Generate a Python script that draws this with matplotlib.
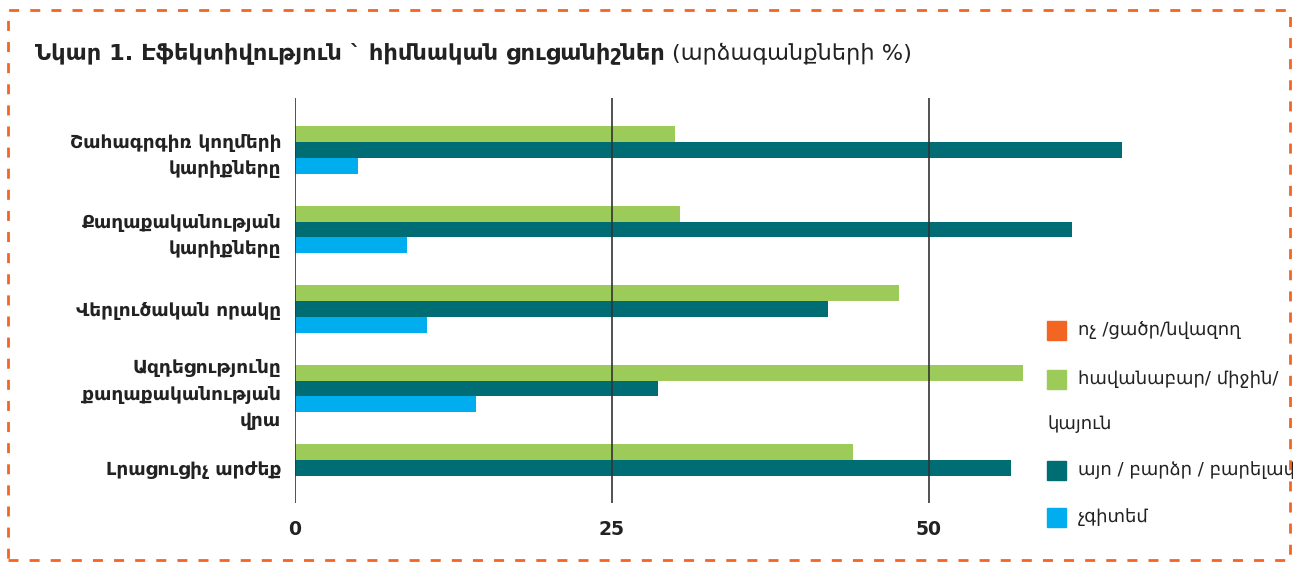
import matplotlib
matplotlib.use("Agg")
import matplotlib.pyplot as plt
from matplotlib.patches import Rectangle
import numpy as np

plt.rcParams['font.family'] = ['DejaVu Sans']

categories = [
    "Շահագրգիռ կողմերի\nկարիքները",
    "Քաղաքականության\nկարիքները",
    "Վերլուծական որակը",
    "Ազդեցությունը\nքաղաքականության\nվրա",
    "Լրացուցիչ արժեք",
]
series_names = ["ոչ /ցածր/նվազող", "հավանաբար/ միջին/\nկայուն", "այո / բարձր / բարելավ", "չգիտեմ"]
no_low = [0, 0, 0, 0, 0]
maybe_mid = [30.0, 30.4, 47.6, 57.4, 44.0]
yes_high = [65.2, 61.3, 42.0, 28.6, 56.5]
dont_know = [5.0, 8.8, 10.4, 14.3, 0]
colors = ["#F26522", "#9DCB5A", "#006D75", "#00AEEF"]
xticks = [0, 25, 50]

W, H = 1293, 563
fig = plt.figure(figsize=(W / 100, H / 100), dpi=100)

# axes placement in pixels
ax_left, ax_right, ax_top, ax_bot = 295, 1135, 98, 503
ax = fig.add_axes([ax_left / W, 1 - ax_bot / H, (ax_right - ax_left) / W, (ax_bot - ax_top) / H])

px_per_unit = (929 - 295) / 50.0
xmax = (ax_right - ax_left) / px_per_unit
ax.set_xlim(0, xmax)
ypx = 79.5
ax.set_ylim(4 + (ax_bot - 468) / ypx, -(150 - ax_top) / ypx)

h = 0.2
y = np.arange(len(categories))
data = [no_low, maybe_mid, yes_high, dont_know]
offsets = [-2 * h, -h, 0, h]
for vals, off, c in zip(data, offsets, colors):
    ax.barh(y + off, vals, height=h, color=c, edgecolor='none', zorder=2)

for s in ax.spines.values():
    s.set_visible(False)
ax.set_xticks(xticks)
ax.set_xticklabels([str(t) for t in xticks], fontsize=13.5, fontweight='bold', color='#222222')
ax.tick_params(axis='x', length=0, pad=12)
ax.grid(axis='x', color='#333333', linewidth=1.2, zorder=3)
ax.set_axisbelow(False)
ax.set_yticks(y)
ax.set_yticklabels(categories, fontsize=13.3, fontweight='bold', color='#222222', ha='right',
                   linespacing=1.6)
ax.tick_params(axis='y', length=0, pad=10)

# title
t1 = fig.text(35 / W, 1 - 53 / H, "Նկար 1. Էֆեկտիվություն ` հիմնական ցուցանիշներ",
              fontsize=16.2, fontweight='bold', color='#222222', va='center', ha='left')
fig.canvas.draw()
bb = t1.get_window_extent()
fig.text(bb.x1 / W + 7 / W, 1 - 53 / H, "(արձագանքների %)", fontsize=16.2, color='#222222',
         va='center', ha='left')

# legend (manual)
leg_x = 1047
sq = 19
items = [(330, 0, "ոչ /ցածր/նվազող"), (379, 1, "հավանաբար/ միջին/"),
         (470, 2, "այո / բարձր / բարելավ"), (517, 3, "չգիտեմ")]
for yc, ci, lab in items:
    fig.patches.append(Rectangle((leg_x / W, 1 - (yc + sq / 2) / H), sq / W, sq / H,
                                 transform=fig.transFigure, color=colors[ci], figure=fig))
    fig.text((leg_x + 31) / W, 1 - yc / H, lab, fontsize=13, color='#222222', va='center', ha='left')
fig.text(leg_x / W, 1 - 424 / H, "կայուն", fontsize=13, color='#222222', va='center', ha='left')

# dashed border
fig.patches.append(Rectangle((8 / W, 1 - 560 / H), (1290 - 8) / W, (560 - 10) / H,
                             transform=fig.transFigure, fill=False, edgecolor='#F26522',
                             linewidth=2, linestyle=(0, (3.6, 4)), figure=fig))

fig.savefig("out.png", dpi=100)
